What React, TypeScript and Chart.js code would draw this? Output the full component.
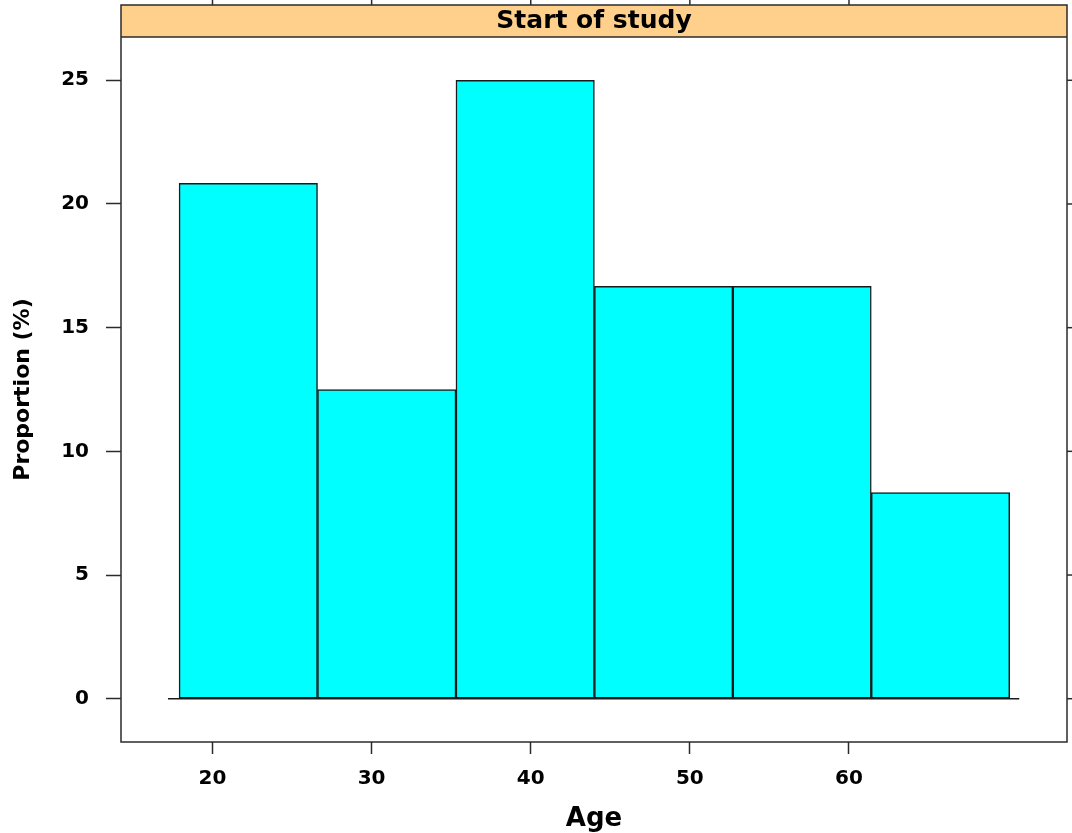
import React, { useEffect, useRef } from 'react';
import { Chart, registerables } from 'chart.js';
Chart.register(...registerables);

const ageBreaks = [17.9, 26.6, 35.3, 44.0, 52.7, 61.4, 70.1];
const proportions = [20.83, 12.5, 25.0, 16.67, 16.67, 8.33];
const xTickValues = [20, 30, 40, 50, 60];
const yTickValues = [0, 5, 10, 15, 20, 25];
const baselineX = [17.2, 70.7];
const xRange = [14.25, 73.7];
const yRange = [-1.75, 26.75];
const stripLabel = 'Start of study';
const xTitle = 'Age';
const yTitle = 'Proportion (%)';

const LINE = '#2b2b2b';
const FONT = 'DejaVu Sans';

const panelPlugin = {
  id: 'latticePanel',
  afterDraw(chart: any) {
    const { ctx, chartArea: a, scales } = chart;
    const stripH = 32;
    ctx.save();
    ctx.fillStyle = '#FFD08C';
    ctx.fillRect(a.left, a.top - stripH, a.right - a.left, stripH);
    ctx.strokeStyle = LINE;
    ctx.lineWidth = 1.5;
    ctx.strokeRect(a.left, a.top - stripH, a.right - a.left, a.bottom - a.top + stripH);
    ctx.beginPath();
    ctx.moveTo(a.left, a.top);
    ctx.lineTo(a.right, a.top);
    ctx.stroke();
    // top ticks
    scales.x.ticks.forEach((t: any) => {
      const px = scales.x.getPixelForValue(t.value);
      ctx.beginPath();
      ctx.moveTo(px, a.top - stripH);
      ctx.lineTo(px, a.top - stripH - 14);
      ctx.stroke();
    });
    // right ticks
    scales.y.ticks.forEach((t: any) => {
      const py = scales.y.getPixelForValue(t.value);
      ctx.beginPath();
      ctx.moveTo(a.right, py);
      ctx.lineTo(a.right + 14, py);
      ctx.stroke();
    });
    ctx.fillStyle = '#000';
    ctx.font = `bold 25px "${FONT}"`;
    ctx.textAlign = 'center';
    ctx.textBaseline = 'middle';
    ctx.fillText(stripLabel, (a.left + a.right) / 2, a.top - stripH / 2);
    ctx.restore();
  },
};

export default function App() {
  const ref = useRef<HTMLCanvasElement>(null);
  useEffect(() => {
    document.body.style.margin = '0';
    const centers = proportions.map((_, i) => (ageBreaks[i] + ageBreaks[i + 1]) / 2);
    const chart = new Chart(ref.current!, {
      type: 'bar',
      data: {
        datasets: [
          {
            type: 'bar',
            data: proportions.map((v, i) => ({ x: centers[i], y: v })),
            backgroundColor: '#00FFFF',
            borderColor: '#1a1a1a',
            borderWidth: 1.5,
            borderSkipped: false,
            barPercentage: 1,
            categoryPercentage: 1,
          } as any,
          {
            type: 'line',
            data: baselineX.map((x) => ({ x, y: 0 })),
            borderColor: '#1a1a1a',
            borderWidth: 1.5,
            pointRadius: 0,
            fill: false,
          } as any,
        ],
      },
      options: {
        responsive: false,
        animation: false,
        plugins: { legend: { display: false }, tooltip: { enabled: false } },
        layout: { padding: { top: 37, right: 5, left: 0, bottom: 0 } },
        scales: {
          x: {
            type: 'linear',
            min: xRange[0],
            max: xRange[1],
            offset: false,
            afterBuildTicks: (s: any) => {
              s.ticks = xTickValues.map((v) => ({ value: v }));
            },
            afterFit: (s: any) => {
              s.height = 91;
            },
            grid: { display: true, offset: false, drawOnChartArea: false, drawTicks: true, tickLength: 12, tickColor: LINE, tickWidth: 1.5 },
            border: { display: false },
            ticks: { color: '#000', padding: 13, maxRotation: 0, font: { family: FONT, size: 20, weight: 'bold' } },
            title: { display: true, text: xTitle, color: '#000', font: { family: FONT, size: 26, weight: 'bold' }, padding: { top: 0, bottom: -2 } },
          },
          y: {
            type: 'linear',
            min: yRange[0],
            max: yRange[1],
            afterBuildTicks: (s: any) => {
              s.ticks = yTickValues.map((v) => ({ value: v }));
            },
            afterFit: (s: any) => {
              s.width = 121;
            },
            grid: { display: true, drawOnChartArea: false, drawTicks: true, tickLength: 15, tickColor: LINE, tickWidth: 1.5 },
            border: { display: false },
            ticks: { color: '#000', padding: 17, font: { family: FONT, size: 20, weight: 'bold' } },
            title: { display: true, text: yTitle, color: '#000', font: { family: FONT, size: 22, weight: 'bold' }, padding: { top: 10, bottom: 0 } },
          },
        },
      } as any,
      plugins: [panelPlugin],
    });
    return () => chart.destroy();
  }, []);
  return (
    <div style={{ width: 1072, height: 833 }}>
      <canvas ref={ref} width={1072} height={833} style={{ display: 'block' }} />
    </div>
  );
}
